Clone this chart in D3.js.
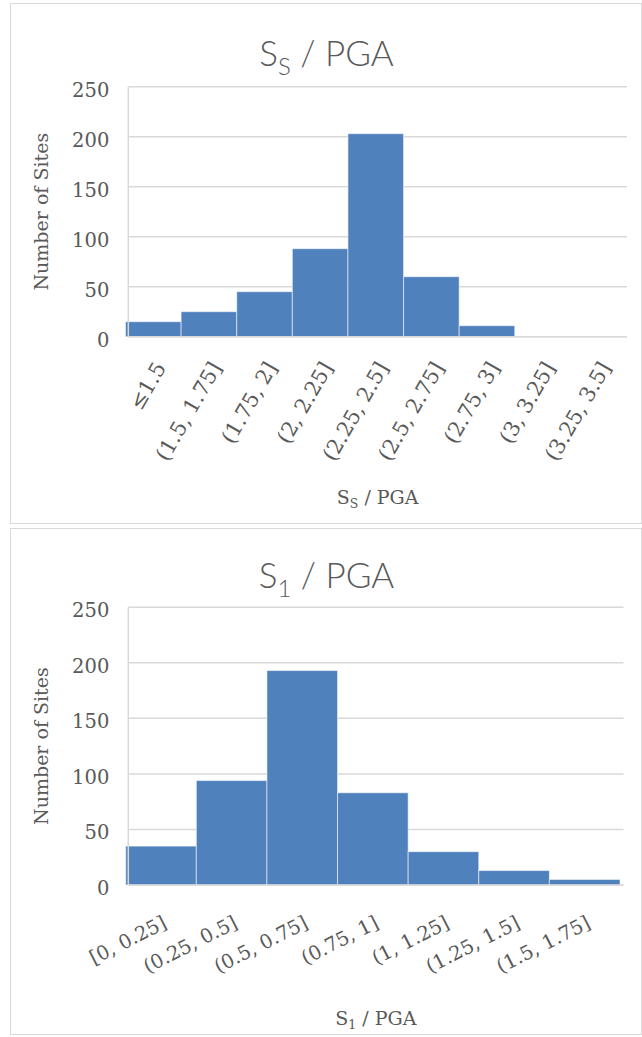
<!DOCTYPE html>
<html>
<head>
<meta charset="utf-8">
<script src="https://cdn.jsdelivr.net/npm/d3@7"></script>
<style>
  html, body { margin: 0; padding: 0; background: #fff; }
  svg { display: block; }
</style>
</head>
<body>
<svg id="chart" width="642" height="1037"></svg>
<script>
// Histogram bins and site counts
const ssCategories = ["≤1.5", "(1.5, 1.75]", "(1.75, 2]", "(2, 2.25]", "(2.25, 2.5]",
                      "(2.5, 2.75]", "(2.75, 3]", "(3, 3.25]", "(3.25, 3.5]"];
const ssCounts = [15, 25, 45, 88, 203, 60, 11, 0, 0];

const s1Categories = ["[0, 0.25]", "(0.25, 0.5]", "(0.5, 0.75]", "(0.75, 1]",
                      "(1, 1.25]", "(1.25, 1.5]", "(1.5, 1.75]"];
const s1Counts = [35, 94, 193, 83, 30, 13, 5];

const countTicks = [0, 50, 100, 150, 200, 250];

const svg = d3.select("#chart");
const SERIF = "'DejaVu Serif', 'Liberation Serif', serif";
const SANS = "Lato, 'Open Sans', sans-serif";
const INK = "#595959";
const GRID = "#d9d9d9";
const BAR = "#4f81bd";

function histogram(o) {
  // panel frame
  svg.append("rect")
    .attr("x", o.panel.x).attr("y", o.panel.y)
    .attr("width", o.panel.w).attr("height", o.panel.h)
    .attr("fill", "#fff").attr("stroke", GRID).attr("stroke-width", 1);

  const x = d3.scaleBand().domain(o.categories).range([o.barLeft, o.barRight]).padding(0);
  const y = d3.scaleLinear().domain([0, 250]).range([o.bottom, o.top]);
  const g = svg.append("g");

  // horizontal gridlines
  g.append("g").selectAll("line").data(countTicks).join("line")
    .attr("x1", o.axisX).attr("x2", o.gridRight)
    .attr("y1", d => y(d)).attr("y2", d => y(d))
    .attr("stroke", GRID).attr("stroke-width", 1.5);

  // bars
  const rows = o.categories.map((cat, i) => ({ cat, count: o.counts[i] })).filter(d => d.count > 0);
  g.append("g").selectAll("rect").data(rows).join("rect")
    .attr("x", d => x(d.cat))
    .attr("width", x.bandwidth())
    .attr("y", d => y(d.count))
    .attr("height", d => y(0) - y(d.count))
    .attr("fill", BAR)
    .attr("stroke", "#fff").attr("stroke-opacity", 0.55).attr("stroke-width", 1);

  // axis lines
  g.append("line")
    .attr("x1", o.axisX).attr("x2", o.axisX).attr("y1", y(250)).attr("y2", y(0))
    .attr("stroke", GRID).attr("stroke-width", 1.5);
  g.append("line")
    .attr("x1", o.axisX).attr("x2", o.gridRight).attr("y1", y(0)).attr("y2", y(0))
    .attr("stroke", GRID).attr("stroke-width", 1.5);

  // count tick labels
  const ya = g.append("g")
    .attr("transform", `translate(${o.axisX},0)`)
    .call(d3.axisLeft(y).tickValues(countTicks).tickSize(0).tickPadding(19));
  ya.select(".domain").remove();
  ya.selectAll("text")
    .attr("font-family", SERIF).attr("font-size", 19.5)
    .attr("fill", INK).attr("dy", "0.48em");

  // bin labels, rotated
  const xa = g.append("g")
    .attr("transform", `translate(0,${o.bottom})`)
    .call(d3.axisBottom(x).tickSize(0));
  xa.select(".domain").remove();
  xa.selectAll("text")
    .attr("y", 0).attr("dy", "0.35em")
    .attr("text-anchor", "end")
    .attr("transform", `translate(${o.labelDx},${o.labelDy}) rotate(${o.labelAngle})`)
    .attr("font-family", SERIF).attr("font-size", o.labelSize)
    .attr("fill", INK);

  // chart title
  const t = svg.append("text")
    .attr("x", o.titleX).attr("y", o.titleY)
    .attr("text-anchor", "middle")
    .attr("font-family", SANS).attr("font-weight", 300)
    .attr("font-size", 35).attr("fill", INK);
  t.append("tspan").text("S");
  t.append("tspan").attr("font-size", 24).attr("dy", 9).text(o.sub);
  t.append("tspan").attr("dy", -9).text(" / PGA");

  // x axis title
  const xt = svg.append("text")
    .attr("x", (o.axisX + o.gridRight) / 2).attr("y", o.xTitleY)
    .attr("text-anchor", "middle")
    .attr("font-family", SERIF).attr("font-size", 19).attr("fill", INK);
  xt.append("tspan").text("S");
  xt.append("tspan").attr("font-size", 12.5).attr("dy", 4).text(o.sub);
  xt.append("tspan").attr("dy", -4).text(" / PGA");

  // y axis title
  svg.append("text")
    .attr("transform", `translate(${o.yTitleX},${(o.top + o.bottom) / 2}) rotate(-90)`)
    .attr("text-anchor", "middle").attr("dominant-baseline", "central")
    .attr("font-family", SERIF).attr("font-size", 19).attr("fill", INK)
    .text("Number of Sites");
}

histogram({
  categories: ssCategories, counts: ssCounts, sub: "S",
  panel: { x: 10.5, y: 3.5, w: 631, h: 520 },
  barLeft: 125.5, barRight: 626, axisX: 128.3, gridRight: 627,
  top: 86.7, bottom: 336.7,
  labelAngle: -60, labelDx: 7, labelDy: 27, labelSize: 21,
  titleX: 326.5, titleY: 65.6, xTitleY: 503.7, yTitleX: 41
});

histogram({
  categories: s1Categories, counts: s1Counts, sub: "1",
  panel: { x: 10.5, y: 528.5, w: 631, h: 506 },
  barLeft: 125.7, barRight: 620, axisX: 128.3, gridRight: 623.5,
  top: 607.2, bottom: 885,
  labelAngle: -27, labelDx: 4, labelDy: 36, labelSize: 19.5,
  titleX: 326.5, titleY: 588, xTitleY: 1024.8, yTitleX: 41
});
</script>
</body>
</html>
